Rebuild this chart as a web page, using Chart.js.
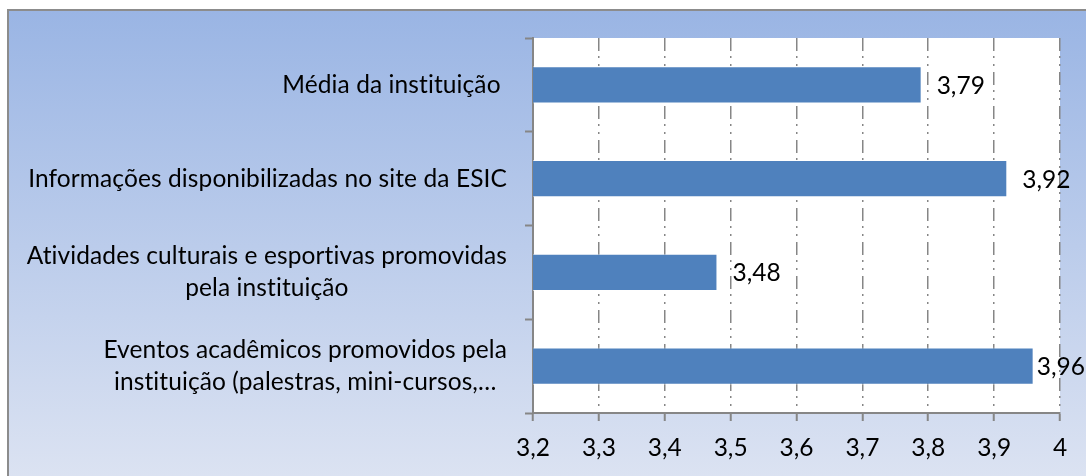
<!DOCTYPE html>
<html>
<head>
<meta charset="utf-8">
<script src="https://cdn.jsdelivr.net/npm/chart.js@4.4.0/dist/chart.umd.min.js"></script>
<style>
  html, body { margin: 0; padding: 0; background: #fff; }
  #wrap { position: relative; width: 1086px; height: 476px; overflow: hidden; }
  #bg {
    position: absolute; left: 7px; top: 9px; width: 1100px; height: 470px;
    border-left: 2px solid #8c8c8c; border-top: 2px solid #8c8c8c;
    background: linear-gradient(to bottom, #9ab5e4 0%, #dce3f2 100%);
  }
  canvas { position: absolute; left: 0; top: 0; }
</style>
</head>
<body>
<div id="wrap">
  <div id="bg"></div>
  <canvas id="grafico" width="1086" height="476"></canvas>
</div>
<script>
// categorias (de cima para baixo)
const categories = [
  'Média da instituição ',
  'Informações disponibilizadas no site da ESIC',
  ['Atividades culturais e esportivas promovidas', 'pela instituição'],
  ['Eventos acadêmicos promovidos pela', 'instituição (palestras, mini-cursos,…']
];
// médias
const values = [3.79, 3.92, 3.48, 3.96];
// rótulos do eixo x
const xTickLabels = ['3,2', '3,3', '3,4', '3,5', '3,6', '3,7', '3,8', '3,9', '4'];

const FONT = '24.5px Lato';
const GRAY = '#868686';

// fundo branco da área do gráfico
const plotBg = {
  id: 'plotBg',
  beforeDraw(chart) {
    const { ctx, chartArea: a } = chart;
    ctx.save();
    ctx.fillStyle = '#fff';
    ctx.fillRect(a.left, a.top, a.right - a.left, a.bottom - a.top);
    ctx.restore();
  }
};

// valores ao lado das barras (empurrados para dentro se não cabem)
const valueLabels = {
  id: 'valueLabels',
  afterDatasetsDraw(chart) {
    const { ctx } = chart;
    const meta = chart.getDatasetMeta(0);
    ctx.save();
    ctx.font = FONT;
    ctx.fillStyle = '#000';
    ctx.textAlign = 'left';
    ctx.textBaseline = 'middle';
    meta.data.forEach((bar, i) => {
      const txt = values[i].toFixed(2).replace('.', ',');
      const w = ctx.measureText(txt).width;
      const x = Math.min(bar.x + 15, chart.width - w - 1);
      ctx.fillText(txt, x, bar.y + 1);
    });
    ctx.restore();
  }
};

// rótulos das categorias (linhas centralizadas no bloco, como no Excel)
const catLabels = {
  id: 'catLabels',
  afterDraw(chart) {
    const { ctx } = chart;
    const yScale = chart.scales.y;
    const right = chart.chartArea.left - 26;
    ctx.save();
    ctx.font = FONT;
    ctx.letterSpacing = '0.1px'; // sem ligaduras "ti"
    ctx.fillStyle = '#000';
    ctx.textAlign = 'center';
    ctx.textBaseline = 'middle';
    categories.forEach((lab, i) => {
      const lines = Array.isArray(lab) ? lab : [lab];
      const w = Math.max(...lines.map(l => ctx.measureText(l).width));
      const cx = right - w / 2;
      const cy = yScale.getPixelForValue(i);
      lines.forEach((l, k) => {
        ctx.fillText(l, cx, cy + (k - (lines.length - 1) / 2) * 32);
      });
    });
    ctx.restore();
  }
};

new Chart(document.getElementById('grafico'), {
  type: 'bar',
  data: {
    labels: categories,
    datasets: [{
      data: values,
      backgroundColor: '#4f81bd',
      borderColor: 'rgba(255,255,255,0.55)',
      borderWidth: 1,
      barPercentage: 0.395,
      categoryPercentage: 1
    }]
  },
  options: {
    indexAxis: 'y',
    responsive: false,
    animation: false,
    layout: { padding: { left: 525, top: 38, right: 26, bottom: 0 } },
    plugins: { legend: { display: false }, tooltip: { enabled: false } },
    scales: {
      x: {
        min: 3.2,
        max: 4,
        ticks: {
          stepSize: 0.1,
          autoSkip: false,
          maxRotation: 0,
          padding: 12,
          color: '#000',
          font: { family: 'Lato', size: 24.5 },
          callback: (v, i) => xTickLabels[i]
        },
        grid: { color: GRAY, lineWidth: 1.5, tickLength: 8, tickColor: GRAY, tickWidth: 2 },
        border: { color: GRAY, width: 2, dash: [13, 5, 2, 6, 2, 6] },
        afterFit(s) { s.height = 63; }
      },
      y: {
        ticks: { display: false },
        grid: { drawOnChartArea: false, offset: true, tickLength: 8, tickColor: GRAY, tickWidth: 2 },
        border: { color: GRAY, width: 2 },
        afterFit(s) { s.width = 8; }
      }
    }
  },
  plugins: [plotBg, valueLabels, catLabels]
});
</script>
</body>
</html>
